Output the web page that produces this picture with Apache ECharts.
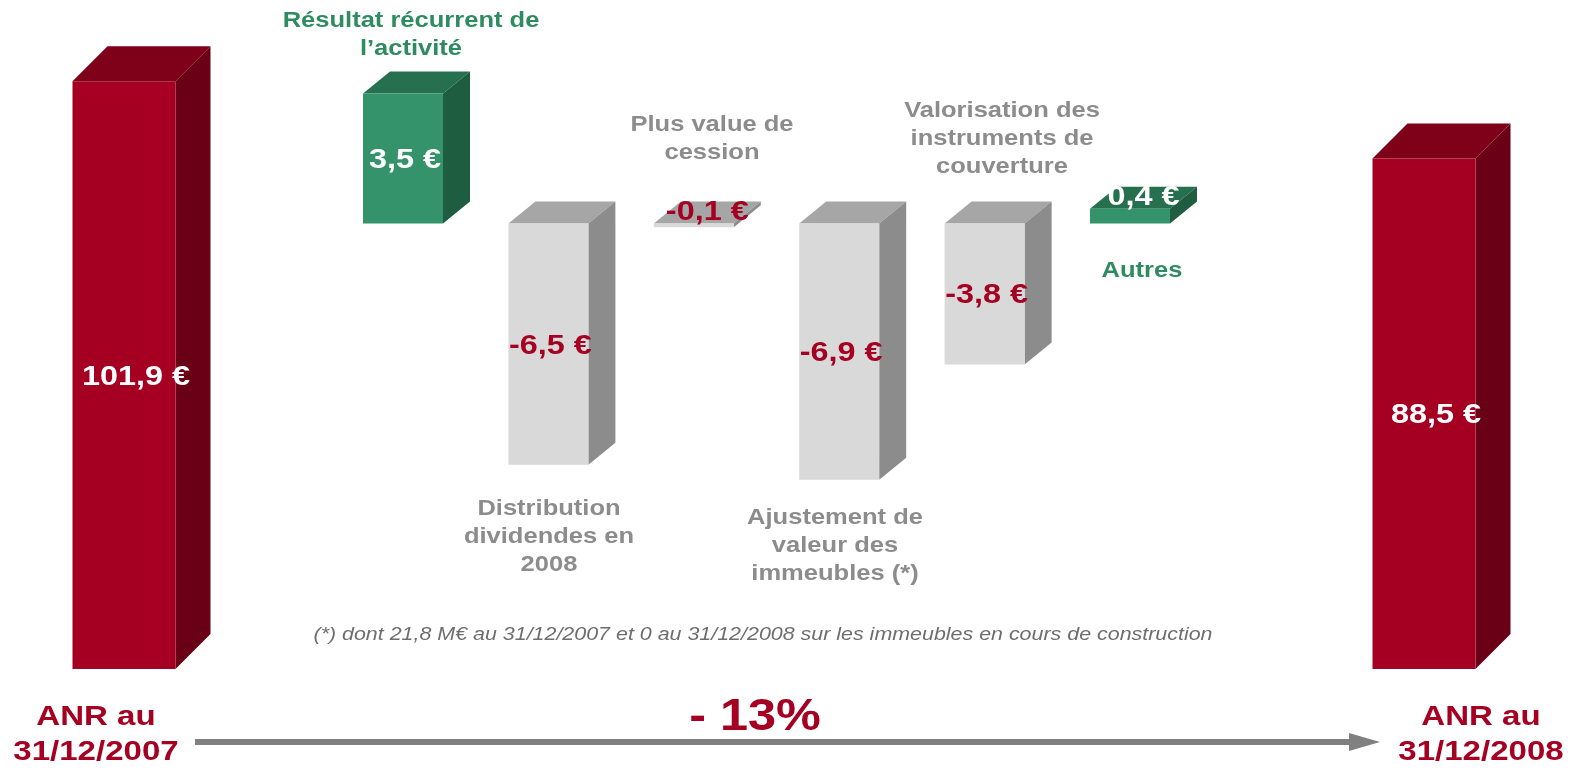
<!DOCTYPE html>
<html>
<head>
<meta charset="utf-8">
<script src="https://cdn.jsdelivr.net/npm/echarts@6/dist/echarts.min.js"></script>
<style>
    html, body { margin: 0; padding: 0; background: #fff; }
    #chart { width: 1570px; height: 770px; }
</style>
</head>
<body>
<div id="chart"></div>
<script>
// ANR au début et à la fin de l'exercice
var anrCategories = ['ANR au\n31/12/2007', 'ANR au\n31/12/2008'];
var anrValues = [101.9, 88.5];

// variations intermédiaires
var stepCategories = [
    'Résultat récurrent de\nl\u2019activité',
    'Distribution\ndividendes en\n2008',
    'Plus value de\ncession',
    'Ajustement de\nvaleur des\nimmeubles (*)',
    'Valorisation des\ninstruments de\ncouverture',
    'Autres'
];
var stepValues = [3.5, -6.5, -0.1, -6.9, -3.8, 0.4];

var footnote = '(*) dont 21,8 M\u20ac au 31/12/2007 et 0 au 31/12/2008 sur les immeubles en cours de construction';

var FONT = "'Liberation Sans', Arial, sans-serif";
var DARK_RED = '#a50021';
var GREEN_TXT = '#2f8c60';
var GRAY_TXT = '#8c8c8c';

var RED = { front: '#a50021', top: '#7e0019', side: '#690016', text: '#fff' };
var GREEN = { front: '#34936a', top: '#26704f', side: '#1f5d41', text: '#fff' };
var GRAY = { front: '#d9d9d9', top: '#a6a6a6', side: '#8c8c8c', text: DARK_RED };

function euro(v) {
    return v.toFixed(1).replace('.', ',') + ' \u20ac';
}

function boxRenderer(w, dx, dy, labelShift, pickColor) {
    return function (params, api) {
        var v = api.value(1);
        var p0 = api.coord([api.value(0), 0]);
        var p1 = api.coord([api.value(0), v]);
        var cx = p0[0];
        var left = cx - w / 2;
        var right = cx + w / 2;
        var top = Math.min(p0[1], p1[1]);
        var bottom = Math.max(p0[1], p1[1]);
        var c = pickColor(v);
        var thin = bottom - top < 20;
        var tx = thin ? cx + dx / 2 : cx + labelShift;
        var ty = thin ? top - dy / 2 : (top + bottom) / 2 + 2;
        return {
            type: 'group',
            children: [{
                type: 'polygon',
                shape: { points: [[left, top], [left + dx, top - dy], [right + dx, top - dy], [right, top]] },
                style: { fill: c.top }
            }, {
                type: 'polygon',
                shape: { points: [[right, top], [right + dx, top - dy], [right + dx, bottom - dy], [right, bottom]] },
                style: { fill: c.side }
            }, {
                type: 'rect',
                shape: { x: left, y: top, width: w, height: bottom - top },
                style: { fill: c.front }
            }, {
                type: 'text',
                x: tx,
                y: ty,
                scaleX: 1.2,
                style: {
                    text: euro(v),
                    fill: c.text,
                    font: 'bold 27px ' + FONT,
                    align: 'center',
                    verticalAlign: 'middle'
                },
                z2: 10
            }]
        };
    };
}

function textEl(text, x, y, size, color, sx, extra) {
    var el = {
        type: 'text',
        x: x,
        y: y,
        scaleX: sx,
        style: {
            text: text,
            fill: color,
            font: 'bold ' + size + 'px ' + FONT,
            align: 'center',
            verticalAlign: 'top',
            lineHeight: Math.round(size * 1.27)
        }
    };
    if (extra) {
        for (var k in extra) el.style[k] = extra[k];
    }
    return el;
}

var change = Math.round((anrValues[1] - anrValues[0]) / anrValues[0] * 100);

var myChart = echarts.init(document.getElementById('chart'));

var option = {
    backgroundColor: '#fff',
    animation: false,
    grid: [
        { left: 124, right: 146, top: 23, bottom: 101 },
        { left: 330.3, right: 367.3, top: 23, bottom: 101 }
    ],
    xAxis: [
        { type: 'category', gridIndex: 0, data: anrCategories, boundaryGap: false, show: false },
        { type: 'category', gridIndex: 1, data: stepCategories, show: false }
    ],
    yAxis: [
        { type: 'value', gridIndex: 0, min: 0, max: 112, show: false },
        { type: 'value', gridIndex: 1, min: -12, max: 5.4, show: false }
    ],
    series: [{
        type: 'custom',
        xAxisIndex: 0,
        yAxisIndex: 0,
        data: anrValues.map(function (v, i) { return [i, v]; }),
        encode: { x: 0, y: 1 },
        renderItem: boxRenderer(103, 35, 35, 12, function () { return RED; })
    }, {
        type: 'custom',
        xAxisIndex: 1,
        yAxisIndex: 1,
        data: stepValues.map(function (v, i) { return [i, v]; }),
        encode: { x: 0, y: 1 },
        renderItem: boxRenderer(80, 27, 22, 2, function (v) { return v > 0 ? GREEN : GRAY; })
    }],
    graphic: [
        textEl(stepCategories[0], 411, 7, 22, GREEN_TXT, 1.16),
        textEl(stepCategories[1], 549, 495, 22, GRAY_TXT, 1.16),
        textEl(stepCategories[2], 712, 111, 22, GRAY_TXT, 1.16),
        textEl(stepCategories[3], 835, 504, 22, GRAY_TXT, 1.16),
        textEl(stepCategories[4], 1002, 97, 22, GRAY_TXT, 1.16),
        textEl(stepCategories[5], 1142, 257, 22, GREEN_TXT, 1.16),
        textEl(anrCategories[0], 96, 700, 28, DARK_RED, 1.18, { lineHeight: 35 }),
        textEl(anrCategories[1], 1481, 700, 28, DARK_RED, 1.18, { lineHeight: 35 }),
        textEl(footnote, 763, 623, 18, '#6e6e6e', 1.19, { font: 'italic 18px ' + FONT }),
        textEl('- ' + Math.abs(change) + '%', 755, 689, 45, DARK_RED, 1.12),
        {
            type: 'polyline',
            shape: { points: [[195, 742], [1352, 742]] },
            style: { stroke: '#808080', lineWidth: 6 }
        },
        {
            type: 'polygon',
            shape: { points: [[1349, 733], [1380, 742], [1349, 751]] },
            style: { fill: '#808080' }
        }
    ]
};

myChart.setOption(option);
</script>
</body>
</html>
